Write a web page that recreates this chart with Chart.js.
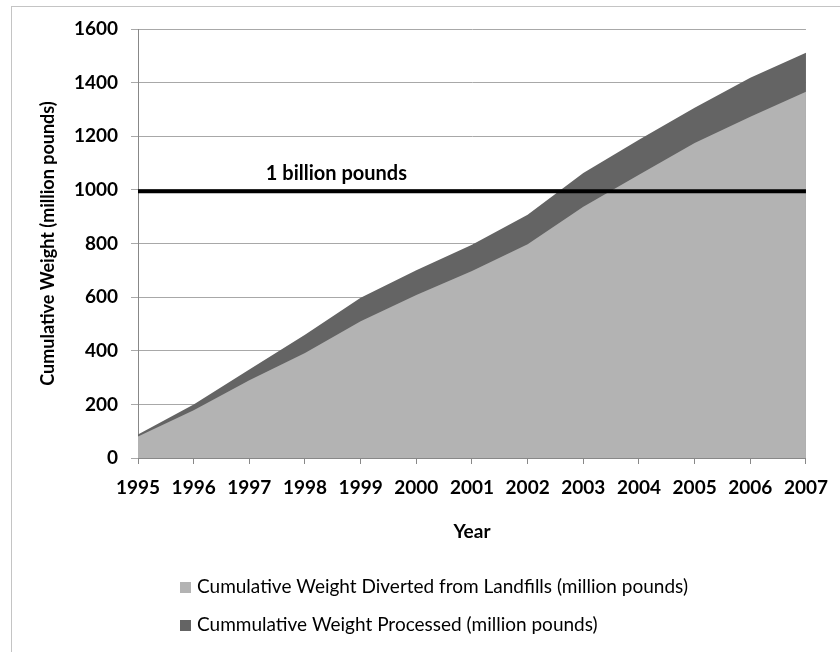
<!DOCTYPE html>
<html lang="en">

<head>
    <meta charset="UTF-8">
    <title>Cumulative Weight</title>
    <script src="https://cdn.jsdelivr.net/npm/chart.js"></script>
    <style>
        body { margin: 0; background: #fff; }
        #janela { position: relative; width: 840px; height: 652px; overflow: hidden; }
        #moldura { position: absolute; left: 11px; top: 6px; width: 900px; height: 700px;
            border-left: 1px solid #c4c4c4; border-top: 1px solid #c4c4c4; }
        #grafico { position: absolute; left: 0; top: 0; }
    </style>
</head>

<body>
    <div id="janela">
        <div id="moldura"></div>
        <canvas id="grafico" width="840" height="652"></canvas>
    </div>

<script>
    // dados
    const anos = ['1995', '1996', '1997', '1998', '1999', '2000', '2001', '2002', '2003', '2004', '2005', '2006', '2007'];
    const desviado = [80, 178, 290, 392, 510, 608, 697, 797, 937, 1056, 1175, 1273, 1366];
    const processado = [88, 200, 330, 460, 598, 700, 795, 907, 1063, 1187, 1306, 1418, 1511];
    const linhaBilhao = 995;
    const ticksY = [0, 200, 400, 600, 800, 1000, 1200, 1400, 1600];

    const nomeDesviado = 'Cumulative Weight Diverted from Landfills (million pounds)';
    const nomeProcessado = 'Cummulative Weight Processed (million pounds)';
    const corDesviado = '#b3b3b3';
    const corProcessado = '#646464';

    const fonte = 'Lato, "Liberation Sans", sans-serif';

    // legenda e texto "1 billion pounds" desenhados a mao
    const extras = {
        id: 'extras',
        afterDraw(chart) {
            const ctx = chart.ctx;
            const area = chart.chartArea;
            const y = chart.scales.y;
            ctx.save();
            ctx.fillStyle = '#000';
            ctx.font = 'bold 20px ' + fonte;
            ctx.textAlign = 'center';
            ctx.textBaseline = 'middle';
            ctx.fillText('1 billion pounds', area.left + (area.right - area.left) * 0.297, y.getPixelForValue(linhaBilhao) - 18);

            const itens = [[nomeDesviado, corDesviado, 587], [nomeProcessado, corProcessado, 625]];
            ctx.font = '19px ' + fonte;
            ctx.textAlign = 'left';
            itens.forEach(function (it) {
                ctx.fillStyle = it[1];
                ctx.fillRect(180, it[2] - 5, 11, 11);
                ctx.fillStyle = '#000';
                ctx.fillText(it[0], 197, it[2]);
            });
            ctx.restore();
        }
    };

    const config = {
        type: 'line',
        data: {
            labels: anos,
            datasets: [{
                label: '1 billion pounds',
                data: anos.map(function () { return linhaBilhao; }),
                borderColor: '#000',
                borderWidth: 4,
                pointRadius: 0,
                fill: false
            }, {
                label: nomeDesviado,
                data: desviado,
                backgroundColor: corDesviado,
                borderWidth: 0,
                pointRadius: 0,
                fill: 'origin'
            }, {
                label: nomeProcessado,
                data: processado,
                backgroundColor: corProcessado,
                borderWidth: 0,
                pointRadius: 0,
                fill: 'origin'
            }]
        },
        options: {
            responsive: false,
            animation: false,
            layout: { padding: { left: 0, top: 29, right: 32, bottom: 97 } },
            plugins: {
                legend: { display: false },
                tooltip: { enabled: false }
            },
            scales: {
                x: {
                    grid: { drawOnChartArea: false, drawTicks: true, tickLength: 6, color: '#888' },
                    border: { color: '#888' },
                    ticks: { color: '#000', padding: 12, font: { family: fonte, size: 19, weight: 'bold' } },
                    title: { display: true, text: 'Year', color: '#000', padding: { top: 0, bottom: 12 },
                        font: { family: fonte, size: 19, weight: 'bold' } },
                    afterFit(scale) { scale.height = 97; }
                },
                y: {
                    min: 0,
                    max: 1600,
                    afterBuildTicks(scale) { scale.ticks = ticksY.map(function (v) { return { value: v }; }); },
                    grid: { color: '#a8a8a8', tickLength: 7 },
                    border: { color: '#888' },
                    ticks: { color: '#000', padding: 13, font: { family: fonte, size: 19, weight: 'bold' },
                        callback: function (v) { return String(v); } },
                    title: { display: true, text: 'Cumulative Weight (million pounds)', color: '#000',
                        padding: { top: 37, bottom: 0 }, font: { family: fonte, size: 18, weight: 'bold' } },
                    afterFit(scale) { scale.width = 138; }
                }
            }
        },
        plugins: [extras]
    };

    new Chart(document.getElementById('grafico'), config);
</script>
</body>

</html>
